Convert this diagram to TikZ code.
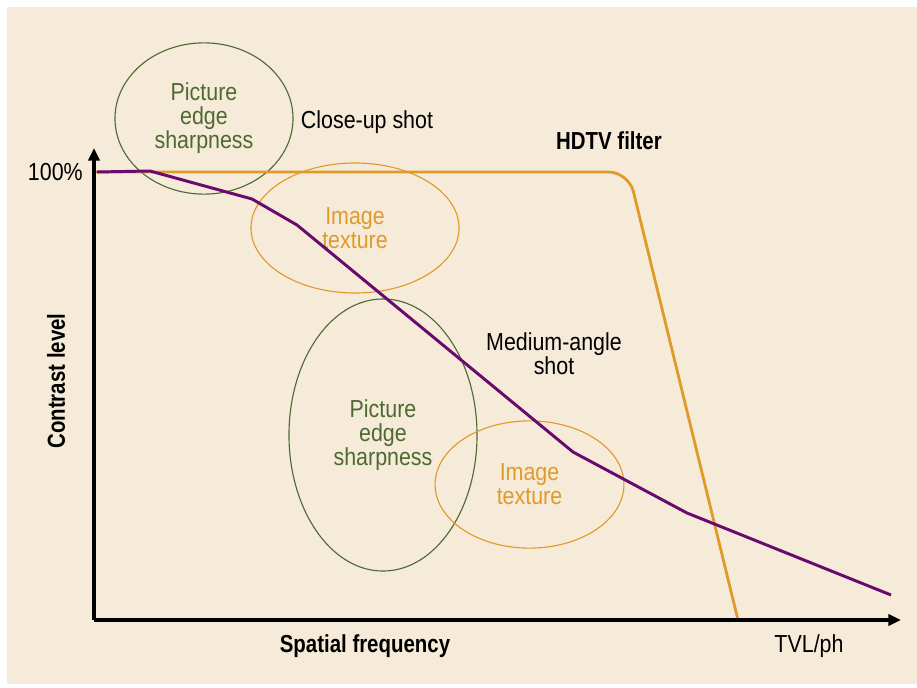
\documentclass[tikz,border=0pt]{standalone}
\usepackage{fontspec}
\setmainfont{Liberation Sans}[FakeStretch=0.87,BoldFeatures={FakeStretch=0.83}]
\usetikzlibrary{shapes.geometric,arrows.meta}
\definecolor{paper}{HTML}{F6EBD9}
\definecolor{filterorange}{HTML}{E09A2A}
\definecolor{edgegreen}{HTML}{4D6A33}
\definecolor{mtfpurple}{HTML}{690A6E}
\begin{document}
\begin{tikzpicture}[x=0.025cm,y=-0.025cm,font=\fontsize{17.5}{17}\selectfont]
		\tikzstyle{greenring}=[draw=edgegreen,text=edgegreen,shape=ellipse,line width=0.8pt,inner sep=0pt,align=center]
		\tikzstyle{orangering}=[draw=filterorange,text=filterorange,shape=ellipse,line width=0.8pt,inner sep=0pt,align=center]
		\tikzstyle{axis}=[line width=2.4pt,-{Triangle[length=9pt,width=8pt]}]
		\tikzstyle{annot}=[align=center,inner sep=0pt]
		\tikzstyle{annot_bold}=[annot,font=\fontsize{17.5}{17}\selectfont\bfseries]

		\useasboundingbox[fill=white] (0,0) rectangle (917,688);
		\fill[paper] (7,7) rectangle (917,684);

		\coordinate (origin) at (94,620);
		\coordinate (ytip) at (94,148);
		\coordinate (xtip) at (901,620);

		\node[greenring,minimum width=4.45cm,minimum height=3.78cm](edge1) at (204,118.5){Picture\\edge\\sharpness};
		\node[orangering,minimum width=5.2cm,minimum height=3.25cm](texture1) at (355,228){Image\\texture};
		\node[greenring,minimum width=4.7cm,minimum height=6.8cm](edge2) at (383,435){Picture\\edge\\sharpness};
		\node[orangering,minimum width=4.72cm,minimum height=3.18cm](texture2) at (529.5,484.5){Image\\texture};

		\draw[filterorange,line width=2pt,rounded corners=0.5cm] (94,172) -- (628.6,172) -- (738,620);
		\draw[mtfpurple,line width=2.1pt] (97,172) -- (150,171) -- (252,199) -- (297,225) -- (573,452) -- (687,513) -- (891,595);

		\draw[axis] (origin) -- (ytip);
		\draw[axis] (origin) -- (xtip);

		\node[annot,anchor=east](full) at (83,172){100\%};
		\node[annot](closeup) at (367,122){Close-up shot};
		\node[annot_bold](hdtv) at (609,141){HDTV filter};
		\node[annot](medium) at (554,354){Medium-angle\\shot};
		\node[annot_bold,rotate=90](contrast) at (56,381){Contrast level};
		\node[annot_bold](spatial) at (365,646){Spatial frequency};
		\node[annot](tvl) at (809,646){TVL/ph};

\end{tikzpicture}
\end{document}
